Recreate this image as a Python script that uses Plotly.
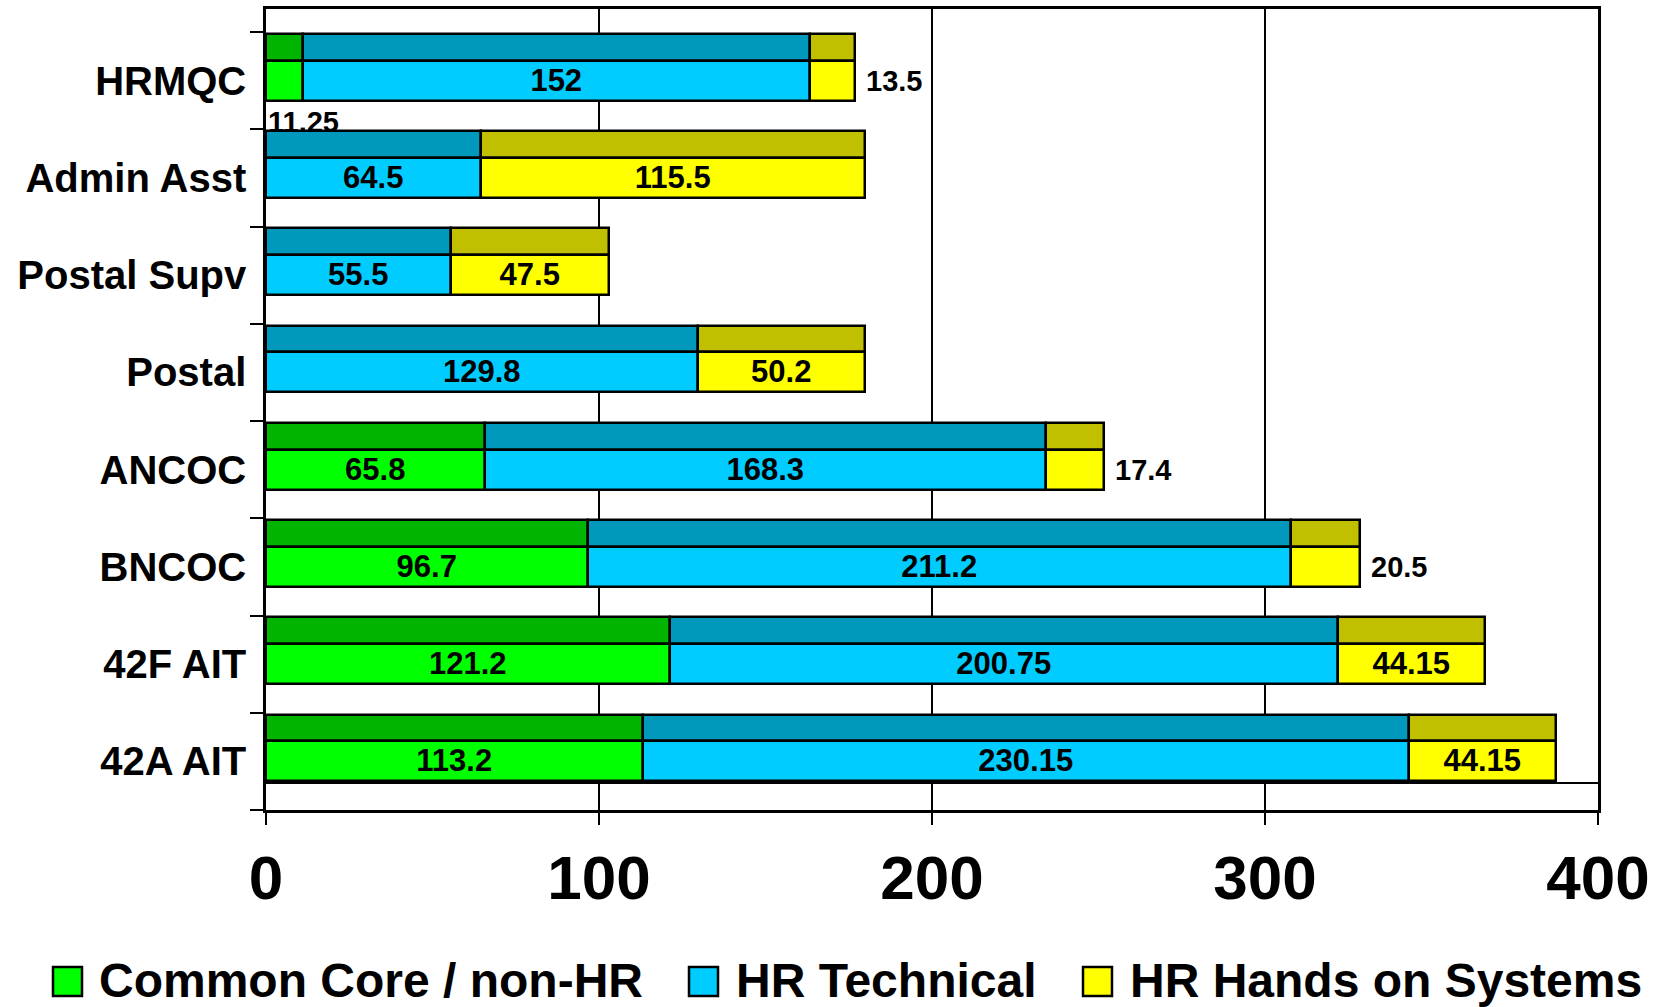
import numpy as np
import plotly.graph_objects as go

# ---------------- data ----------------
categories = ["HRMQC", "Admin Asst", "Postal Supv", "Postal", "ANCOC", "BNCOC", "42F AIT", "42A AIT"]
common_core = [11.25, 0, 0, 0, 65.8, 96.7, 121.2, 113.2]
hr_technical = [152, 64.5, 55.5, 129.8, 168.3, 211.2, 200.75, 230.15]
hr_hands_on = [13.5, 115.5, 47.5, 50.2, 17.4, 20.5, 44.15, 44.15]
series_names = ["Common Core / non-HR", "HR Technical", "HR Hands on Systems"]
x_tick_values = [0, 100, 200, 300, 400]

# ---------------- style ----------------
FONT = "Liberation Sans, Arial, sans-serif"
front_colors = ["#00FF00", "#00CCFF", "#FFFF00"]
top_colors = ["#00B400", "#0099BB", "#C0C000"]
FRONT_OFF, FRONT_W = -0.205, 0.411
TOP_OFF, TOP_W = 0.205, 0.277
LINE_W = 2.5
MIN_INSIDE = 25  # values smaller than this get their label outside the bar

series = [np.array(common_core, float), np.array(hr_technical, float), np.array(hr_hands_on, float)]
bases = [np.zeros(len(categories)), series[0], series[0] + series[1]]

fig = go.Figure()

# top faces (pseudo-3D) first, then front faces
for vals, base, name, tc in zip(series, bases, series_names, top_colors):
    fig.add_trace(go.Bar(
        y=categories, x=vals, base=base, orientation="h",
        offset=TOP_OFF, width=TOP_W, name=name, showlegend=False,
        marker=dict(color=tc, line=dict(color="black", width=LINE_W)),
        hoverinfo="skip",
    ))

for vals, base, name, fc in zip(series, bases, series_names, front_colors):
    labels = [f"{v:g}" if v >= MIN_INSIDE else "" for v in vals]
    fig.add_trace(go.Bar(
        y=categories, x=vals, base=base, orientation="h",
        offset=FRONT_OFF, width=FRONT_W, name=name, showlegend=False,
        marker=dict(color=fc, line=dict(color="black", width=LINE_W)),
        text=labels, textposition="inside", insidetextanchor="middle",
        textangle=0, constraintext="none",
        textfont=dict(family=FONT, size=31, color="black", weight="bold"),
    ))

annotations = []
# small values: labels outside the bars
for i, cat in enumerate(categories):
    g, b, y = series[0][i], series[1][i], series[2][i]
    if 0 < y < MIN_INSIDE:
        annotations.append(dict(
            x=g + b + y, y=cat, xref="x", yref="y", text=f"{y:g}", showarrow=False,
            xanchor="left", yanchor="middle", xshift=9,
            font=dict(family=FONT, size=29, color="black", weight="bold")))
    if 0 < g < MIN_INSIDE:
        annotations.append(dict(
            x=0, y=cat, xref="x", yref="y", text=f"{g:g}", showarrow=False,
            xanchor="left", yanchor="middle", xshift=0, yshift=-41,
            font=dict(family=FONT, size=29, color="black", weight="bold")))

# back-wall bottom edge (3D floor)
shapes = [dict(type="line", xref="x", yref="y", x0=0, x1=400, y0=-0.222, y1=-0.222,
               line=dict(color="black", width=2), layer="below")]

# manual legend (large square swatches)
PL, PW, PB, PH = 266, 1332, 810, 801.5  # plot area in px
def px_x(p):
    return (p - PL) / PW
def px_y(p):
    return (PB - p) / PH

legend_items = [(53, 97), (689, 734), (1083, 1128)]
for (sq_x, tx_x), name, fc in zip(legend_items, series_names, front_colors):
    shapes.append(dict(type="rect", xref="paper", yref="paper",
                       x0=px_x(sq_x), x1=px_x(sq_x + 29), y0=px_y(996), y1=px_y(967),
                       fillcolor=fc, line=dict(color="black", width=2.5)))
    annotations.append(dict(
        x=px_x(tx_x), y=px_y(981), xref="paper", yref="paper", text=name,
        showarrow=False, xanchor="left", yanchor="middle",
        font=dict(family=FONT, size=48, color="black", weight="bold")))

fig.update_layout(
    width=1657, height=1007,
    margin=dict(l=266, r=59, t=8.5, b=197, autoexpand=False),
    paper_bgcolor="white", plot_bgcolor="white",
    barmode="overlay", bargap=0,
    showlegend=False,
    font=dict(family=FONT, color="black"),
    shapes=shapes, annotations=annotations,
    xaxis=dict(
        range=[0, 400], tickvals=x_tick_values, ticktext=[str(v) for v in x_tick_values],
        showgrid=True, gridcolor="black", gridwidth=2,
        zeroline=False, showline=True, linecolor="black", linewidth=2.5, mirror=True,
        ticks="outside", ticklen=12, tickwidth=2, tickcolor="black",
        tickfont=dict(family=FONT, size=62, color="black", weight="bold"),
    ),
    yaxis=dict(
        type="category", categoryorder="array", categoryarray=categories[::-1],
        range=[-0.5, 7.737], tickson="boundaries",
        showgrid=False, zeroline=False, showline=True, linecolor="black", linewidth=2.5, mirror=True,
        ticks="outside", ticklen=13, tickwidth=2, tickcolor="black", ticklabelstandoff=9,
        tickfont=dict(family=FONT, size=40, color="black", weight="bold"),
    ),
)

fig.write_html(
    "out.html",
    config={"displayModeBar": False},
    post_script="document.body.style.margin='0px';document.body.style.overflow='hidden';",
)
